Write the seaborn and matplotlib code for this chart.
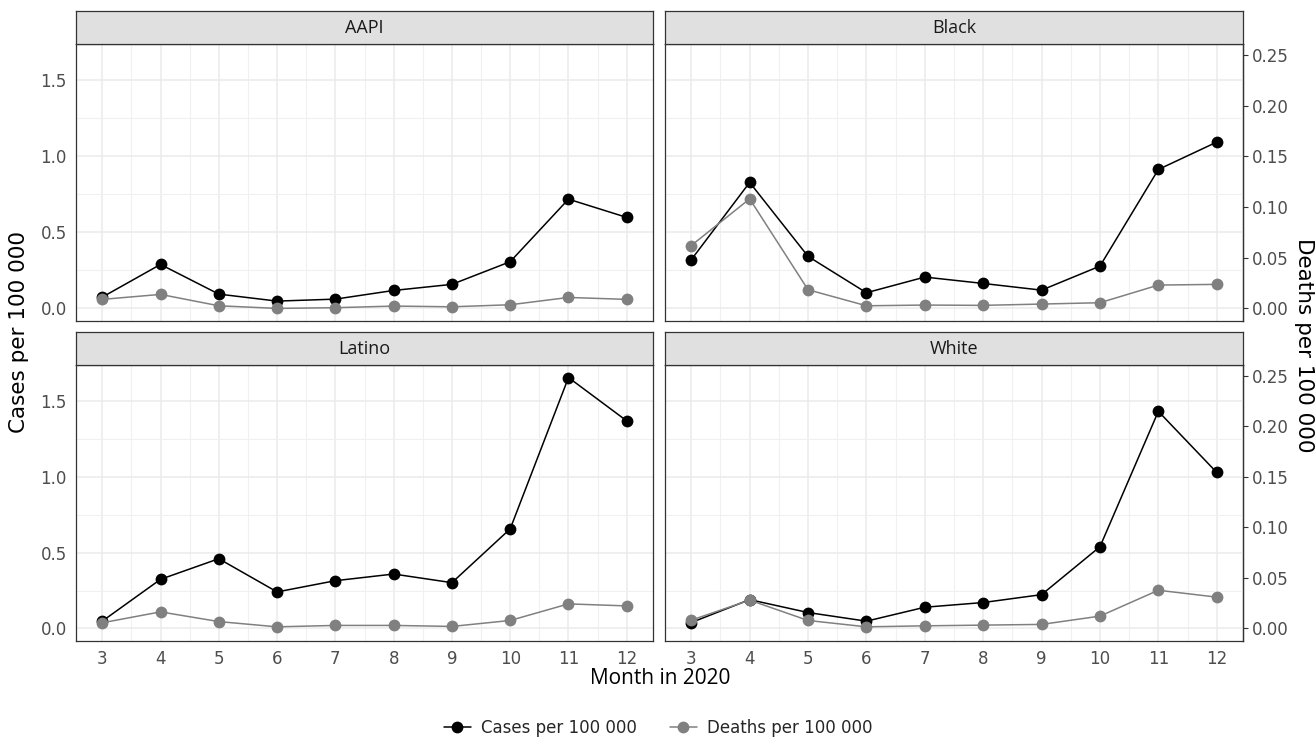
import matplotlib

matplotlib.use('Agg')
import matplotlib.pyplot as plt
import numpy as np
import pandas as pd
import seaborn as sns
from matplotlib.ticker import FixedLocator, FormatStrFormatter

# Data
months = [3, 4, 5, 6, 7, 8, 9, 10, 11, 12]
groups = ['AAPI', 'Black', 'Latino', 'White']

cases_aapi = [0.074, 0.289, 0.094, 0.048, 0.061, 0.118, 0.158, 0.307, 0.718, 0.598]
cases_black = [0.320, 0.828, 0.342, 0.103, 0.206, 0.164, 0.120, 0.278, 0.913, 1.093]
cases_latino = [0.048, 0.324, 0.460, 0.241, 0.315, 0.359, 0.302, 0.657, 1.655, 1.369]
cases_white = [0.039, 0.190, 0.105, 0.048, 0.140, 0.171, 0.223, 0.539, 1.432, 1.029]

deaths_aapi = [0.0089, 0.0138, 0.0026, 0.0, 0.0007, 0.0023, 0.0016, 0.0036, 0.0108, 0.0089]
deaths_black = [0.062, 0.108, 0.0184, 0.0026, 0.0033, 0.0030, 0.0043, 0.0056, 0.0230, 0.0237]
deaths_latino = [0.0056, 0.0164, 0.0068, 0.0016, 0.0030, 0.0030, 0.0020, 0.0079, 0.0243, 0.0223]
deaths_white = [0.0082, 0.0280, 0.0079, 0.0016, 0.0026, 0.0033, 0.0040, 0.0122, 0.0378, 0.0310]

cases_label = 'Cases per 100 000'
deaths_label = 'Deaths per 100 000'
# deaths are drawn on the cases scale, secondary axis maps back
scale = 1 / 0.15

cases = dict(zip(groups, [cases_aapi, cases_black, cases_latino, cases_white]))
deaths = dict(zip(groups, [deaths_aapi, deaths_black, deaths_latino, deaths_white]))

rows = []
for g in groups:
    for m, c, d in zip(months, cases[g], deaths[g]):
        rows.append({'group': g, 'month': m, 'measure': cases_label, 'value': c})
        rows.append({'group': g, 'month': m, 'measure': deaths_label, 'value': d * scale})
df = pd.DataFrame(rows)

sns.set_theme(style='white')
plt.rcParams['font.family'] = ['DejaVu Sans']

W, H = 1316, 749
fig = plt.figure(figsize=(W / 100, H / 100), dpi=100)

# panel boxes in pixels: (left, right) and (top, bottom)
cols = [(76, 653), (665, 1243)]
rows_px = [(44, 321), (365, 641)]
strip_h = 33

lo, hi = df['value'].min(), df['value'].max()
pad = 0.05 * (hi - lo)
ylim = (lo - pad, hi + pad)
xlim = (months[0] - 0.05 * (months[-1] - months[0]), months[-1] + 0.05 * (months[-1] - months[0]))

palette = {cases_label: 'black', deaths_label: '#808080'}
edge = '#333333'

for i, g in enumerate(groups):
    r, c = divmod(i, 2)
    x0, x1 = cols[c]
    y0, y1 = rows_px[r]
    ax = fig.add_axes([x0 / W, 1 - y1 / H, (x1 - x0) / W, (y1 - y0) / H])
    sns.lineplot(data=df[df['group'] == g], x='month', y='value', hue='measure',
                 hue_order=[cases_label, deaths_label], palette=palette,
                 marker='o', markersize=8.5, markeredgewidth=0, linewidth=1.1,
                 legend=False, ax=ax, zorder=3)
    ax.set_xlim(xlim)
    ax.set_ylim(ylim)
    ax.set_xlabel('')
    ax.set_ylabel('')
    ax.xaxis.set_major_locator(FixedLocator(months))
    ax.xaxis.set_minor_locator(FixedLocator(np.arange(2.5, 13, 1)))
    ax.yaxis.set_major_locator(FixedLocator([0, 0.5, 1.0, 1.5]))
    ax.yaxis.set_minor_locator(FixedLocator([0.25, 0.75, 1.25]))
    ax.yaxis.set_major_formatter(FormatStrFormatter('%.1f'))
    ax.grid(which='major', color='#EBEBEB', linewidth=1.1, zorder=0)
    ax.grid(which='minor', color='#F0F0F0', linewidth=0.8, zorder=0)
    ax.set_axisbelow(True)
    for s in ax.spines.values():
        s.set_color(edge)
        s.set_linewidth(0.9)
    ax.tick_params(which='minor', length=0)
    ax.tick_params(which='major', length=3.5, width=0.8, color=edge,
                   labelsize=12, labelcolor='#4D4D4D', pad=3)
    if c == 1:
        ax.tick_params(axis='y', left=False, labelleft=False)
        sec = ax.secondary_yaxis('right', functions=(lambda y: y / scale, lambda d: d * scale))
        sec.yaxis.set_major_locator(FixedLocator([0, 0.05, 0.10, 0.15, 0.20, 0.25]))
        sec.yaxis.set_major_formatter(FormatStrFormatter('%.2f'))
        sec.tick_params(length=3.5, width=0.8, color=edge, labelsize=12,
                        labelcolor='#4D4D4D', pad=3)
        sec.spines['right'].set_color(edge)
        sec.spines['right'].set_linewidth(0.9)
    if r == 0:
        ax.tick_params(axis='x', bottom=False, labelbottom=False)

    # facet strip
    sax = fig.add_axes([x0 / W, 1 - y0 / H, (x1 - x0) / W, strip_h / H])
    sax.set_facecolor('#E0E0E0')
    sax.set_xticks([])
    sax.set_yticks([])
    for s in sax.spines.values():
        s.set_color(edge)
        s.set_linewidth(0.9)
    sax.text(0.5, 0.48, g, ha='center', va='center', fontsize=13,
             color='#1A1A1A', family=['Open Sans', 'DejaVu Sans'])

fig.text(19 / W, 1 - 332 / H, cases_label, rotation=90, ha='center', va='center',
         fontsize=15.5, color='black')
fig.text(1304 / W, 1 - 345 / H, deaths_label, rotation=270, ha='center', va='center',
         fontsize=15.5, color='black')
fig.text(660 / W, 1 - 678 / H, 'Month in 2020', ha='center', va='center',
         fontsize=15, color='black', family=['Open Sans', 'DejaVu Sans'])

handles = [
    plt.Line2D([], [], color='black', marker='o', markersize=8.5, markeredgewidth=0, linewidth=1.1),
    plt.Line2D([], [], color='#808080', marker='o', markersize=8.5, markeredgewidth=0, linewidth=1.1),
]
fig.legend(handles, [cases_label, deaths_label], loc='center', ncol=2,
           bbox_to_anchor=(0.5, 1 - 728 / H), frameon=False, fontsize=12,
           handlelength=1.6, handletextpad=0.6, columnspacing=2.0)

fig.savefig('out.png', dpi=100)
